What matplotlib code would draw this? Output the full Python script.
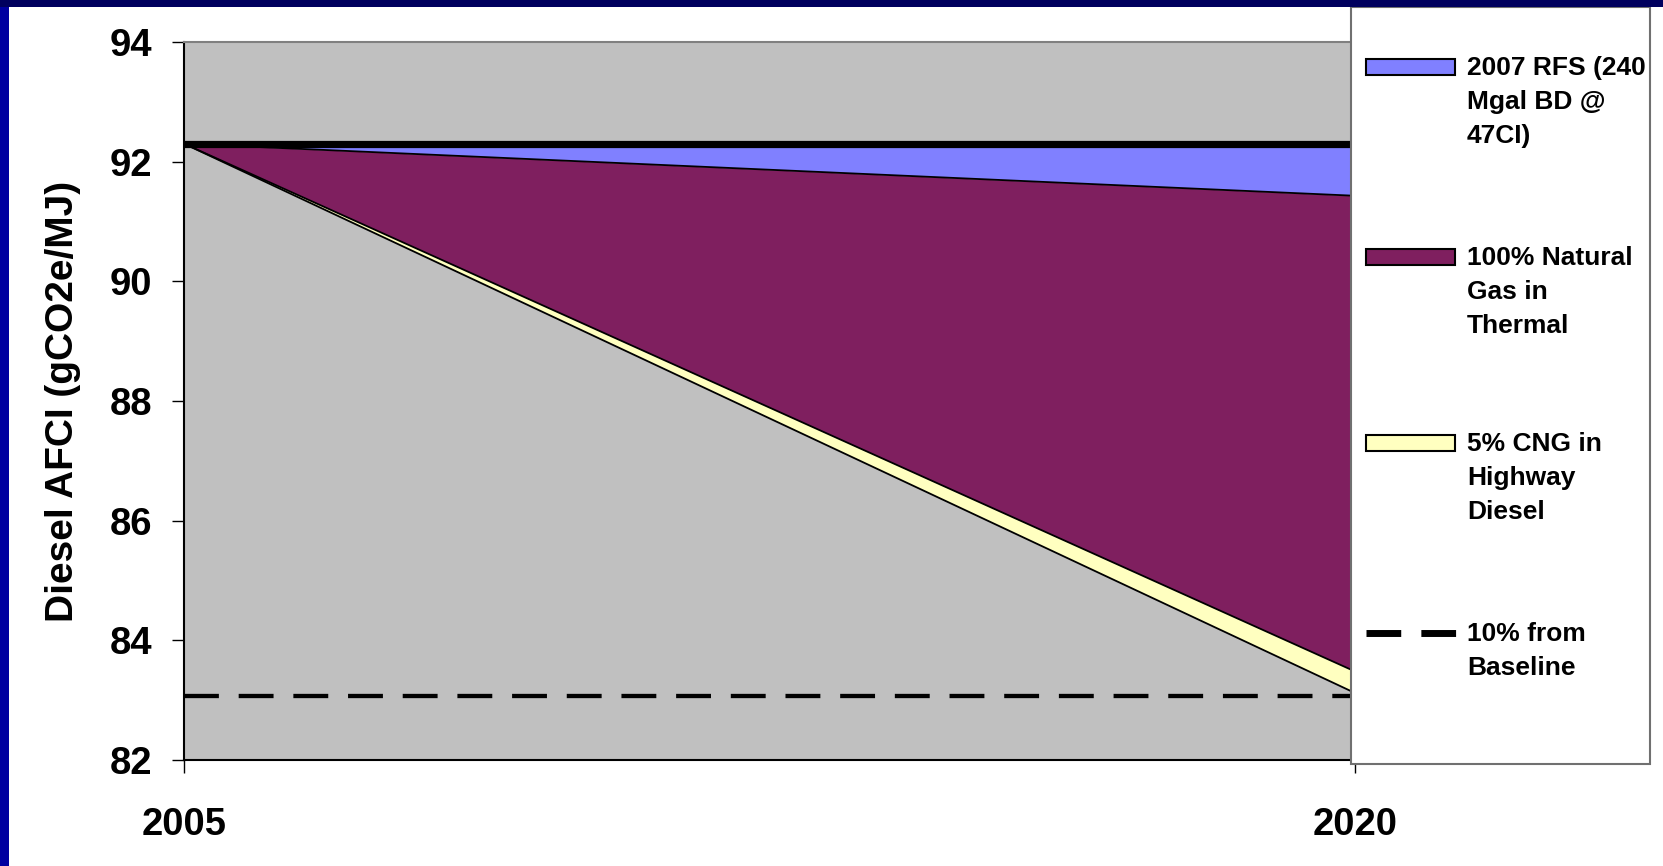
import matplotlib.pyplot as plt
from matplotlib.patches import Rectangle
from matplotlib.lines import Line2D

plt.rcParams["font.family"] = ["Liberation Sans", "DejaVu Sans"]
plt.rcParams["font.weight"] = "bold"

# values (gCO2e/MJ)
years = [2005, 2020]
baseline = [92.3, 92.3]
rfs_2007 = [92.3, 91.43]
natgas_thermal = [92.3, 83.48]
cng_highway = [92.3, 83.12]
target_10pct = [83.07, 83.07]

yticks = [82, 84, 86, 88, 90, 92, 94]
labels = ["2007 RFS (240\nMgal BD @\n47CI)", "100% Natural\nGas in\nThermal",
          "5% CNG in\nHighway\nDiesel", "10% from\nBaseline"]
colors = ["#8080FF", "#7F1F5F", "#FFFFC0"]

W, H = 1663, 866
fig = plt.figure(figsize=(W / 100, H / 100), dpi=100)
fig.patch.set_facecolor("white")

# plot area in pixels: x 184..1355, y 42..760
ax = fig.add_axes([184 / W, 1 - 760 / H, (1355 - 184) / W, (760 - 42) / H])
ax.set_facecolor("#C0C0C0")

ax.fill_between(years, rfs_2007, baseline, color=colors[0], lw=0)
ax.fill_between(years, natgas_thermal, rfs_2007, color=colors[1], lw=0)
ax.fill_between(years, cng_highway, natgas_thermal, color=colors[2], lw=0)
for s in (rfs_2007, natgas_thermal, cng_highway):
    ax.plot(years, s, color="black", lw=1.3)
ax.plot(years, baseline, color="black", lw=5.2, solid_capstyle="butt")
ax.plot(years, target_10pct, color="black", lw=3.1, ls=(0, (8.1, 4.6)))

ax.set_xlim(2005, 2020)
ax.set_ylim(82, 94)
ax.set_xticks(years)
ax.set_xticklabels([str(y) for y in years])
ax.set_yticks(yticks)
ax.tick_params(axis="both", direction="out", length=9, width=1, labelsize=27.5)
ax.tick_params(axis="x", pad=25)
ax.tick_params(axis="y", pad=14)
for sp in ("left", "bottom"):
    ax.spines[sp].set_linewidth(1.5)
    ax.spines[sp].set_color("black")
ax.spines["top"].set_color("#808080")
ax.spines["top"].set_linewidth(1.5)
ax.spines["right"].set_visible(False)

ax.set_ylabel("Diesel AFCI (gCO2e/MJ)", fontsize=28, fontweight="bold", va="center")
ax.yaxis.set_label_coords(-0.103, 0.5)

# legend box drawn by hand to match the slide layout
def fx(px):
    return px / W

def fy(py):
    return 1 - py / H

fig.add_artist(Rectangle((fx(1351), fy(764)), fx(1650) - fx(1351), fy(7) - fy(764),
                         transform=fig.transFigure, facecolor="white",
                         edgecolor="#707070", lw=1.5, zorder=5))
row_centers = [67, 257, 443, 633]
for i, lab in enumerate(labels):
    yc = row_centers[i]
    if i < 3:
        fig.add_artist(Rectangle((fx(1366), fy(yc + 8)), fx(1455) - fx(1366), fy(yc - 8) - fy(yc + 8),
                                 transform=fig.transFigure, facecolor=colors[i],
                                 edgecolor="black", lw=1.5, zorder=6))
    else:
        fig.add_artist(Line2D([fx(1366), fx(1456)], [fy(yc), fy(yc)], transform=fig.transFigure,
                              color="black", lw=5, ls=(0, (5, 2.9)), zorder=6))
    fig.text(fx(1467), fy(yc - 11), lab, fontsize=19, fontweight="bold",
             va="top", ha="left", linespacing=1.52, zorder=7)

# slide border (navy) along left and top
fig.add_artist(Rectangle((0, 0), fx(9), 1, transform=fig.transFigure,
                         facecolor="#0000A0", edgecolor="none", zorder=8))
fig.add_artist(Rectangle((0, fy(7)), 1, fx(7) * W / H, transform=fig.transFigure,
                         facecolor="#00005E", edgecolor="none", zorder=8))

fig.savefig("out.png", dpi=100)
